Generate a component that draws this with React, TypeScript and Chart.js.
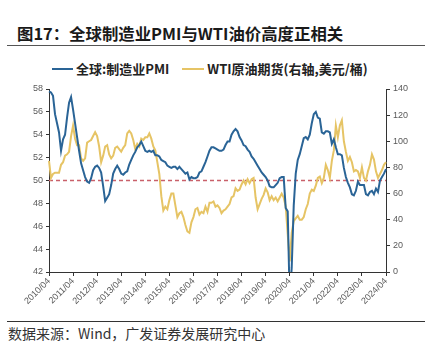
import React, { useEffect, useRef } from "react";
import { Chart, registerables } from "chart.js";

Chart.register(...registerables);

// Monthly categories 2010/04 .. 2024/04
const START_YEAR = 2010;
const START_MONTH = 4;
const MONTH_COUNT = 169;
const LABELS: string[] = [];
for (let i = 0; i < MONTH_COUNT; i++) {
  const m0 = START_MONTH - 1 + i;
  const y = START_YEAR + Math.floor(m0 / 12);
  const m = (m0 % 12) + 1;
  LABELS.push(`${y}/${m < 10 ? "0" + m : m}`);
}

const PMI: number[] = [
  // 2010 Apr-Dec
  57.8, 57.7, 57.4, 55.8, 55.0, 54.2, 52.6, 53.6, 54.0,
  // 2011
  55.5, 56.8, 57.3, 56.2, 55.0, 53.8, 52.6, 51.5, 50.9, 50.3, 49.9, 49.8,
  // 2012
  50.2, 50.9, 51.2, 51.3, 51.1, 50.7, 49.5, 48.2, 48.5, 48.8, 49.6, 50.6,
  // 2013
  51.0, 51.3, 51.0, 50.6, 50.5, 50.7, 50.8, 51.4, 51.8, 52.2, 52.5, 52.9,
  // 2014
  53.1, 53.4, 53.0, 52.6, 52.5, 52.6, 52.5, 52.6, 52.2, 52.2, 52.1, 51.8,
  // 2015
  51.7, 51.6, 51.3, 51.2, 51.1, 51.2, 51.2, 51.0, 51.2, 51.0, 50.8, 50.6,
  // 2016
  50.7, 50.1, 50.3, 50.2, 50.2, 50.3, 50.7, 50.8, 51.2, 51.6, 52.1, 52.6,
  // 2017
  52.9, 52.9, 52.8, 52.7, 52.6, 52.6, 52.7, 53.1, 53.4, 53.4, 54.0, 54.3,
  // 2018
  54.5, 54.3, 53.8, 53.5, 53.1, 53.0, 52.7, 52.5, 52.1, 51.9, 51.6, 51.3,
  // 2019
  51.0, 50.7, 50.5, 50.3, 50.0, 49.5, 49.4, 49.4, 49.6, 49.8, 50.2, 50.3,
  // 2020
  50.3, 47.6, 47.3, 39.6, 42.4, 47.8, 50.6, 51.8, 52.3, 53.0, 53.7, 53.8,
  // 2021
  53.6, 54.0, 55.0, 55.8, 56.0, 55.5, 55.4, 54.2, 54.1, 54.3, 54.3, 54.2,
  // 2022
  53.2, 53.6, 52.9, 52.3, 52.3, 52.2, 51.1, 50.3, 49.8, 49.4, 48.8, 48.7,
  // 2023
  49.1, 49.9, 49.6, 49.6, 49.6, 48.8, 48.7, 49.0, 49.1, 48.8, 49.3, 49.0,
  // 2024 Jan-Apr
  50.0, 50.3, 50.6, 51.0,
];

const WTI: number[] = [
  // 2010 Apr-Dec
  85, 72, 75, 76, 76, 76, 82, 84, 89,
  // 2011
  90, 92, 104, 112, 102, 97, 97, 87, 85, 87, 99, 100,
  // 2012
  101, 104, 107, 104, 96, 84, 89, 96, 97, 90, 87, 89,
  // 2013
  95, 96, 94, 92, 95, 97, 106, 108, 106, 101, 94, 98,
  // 2014
  96, 102, 101, 103, 103, 106, 102, 96, 93, 84, 75, 58,
  // 2015
  47, 50, 48, 55, 60, 60, 51, 42, 45, 46, 42, 36,
  // 2016
  31, 30, 38, 42, 48, 49, 44, 46, 45, 50, 46, 53,
  // 2017
  53, 54, 50, 51, 49, 45, 47, 48, 50, 52, 57, 58,
  // 2018
  64, 62, 63, 67, 70, 67, 71, 68, 71, 72, 57, 48,
  // 2019
  52, 56, 59, 64, 61, 55, 58, 55, 57, 54, 57, 60,
  // 2020
  57, 50, 29, 8, 30, 39, 41, 43, 40, 40, 42, 48,
  // 2021
  52, 60, 63, 62, 66, 72, 73, 68, 72, 82, 78, 72,
  // 2022
  85, 93, 112, 103, 112, 116, 100, 92, 85, 88, 84, 77,
  // 2023
  78, 77, 72, 80, 72, 70, 77, 82, 90, 86, 77, 72,
  // 2024 Jan-Apr
  75, 78, 82, 84,
];

const REF_LEVEL = 50;
const LEFT_MIN = 42, LEFT_MAX = 58, LEFT_STEP = 2;
const RIGHT_MIN = 0, RIGHT_MAX = 140, RIGHT_STEP = 20;

const TITLE = "图17：全球制造业PMI与WTI油价高度正相关";
const SERIES_PMI = "全球:制造业PMI";
const SERIES_WTI = "WTI原油期货(右轴,美元/桶)";
const SOURCE = "数据来源：Wind，广发证券发展研究中心";

const BLUE = "#2a6496";
const GOLD = "#e6c465";
const REF_COLOR = "#c9606a";
const TICK_COLOR = "#595959";
const CJK = '"Noto Sans CJK SC", "Liberation Sans", sans-serif';

const refLinePlugin = {
  id: "refLine",
  beforeDatasetsDraw(chart: any) {
    const { ctx, chartArea, scales } = chart;
    const y = scales.y.getPixelForValue(REF_LEVEL);
    ctx.save();
    ctx.beginPath();
    ctx.setLineDash([4, 3]);
    ctx.lineWidth = 1.3;
    ctx.strokeStyle = REF_COLOR;
    ctx.moveTo(chartArea.left, y);
    ctx.lineTo(chartArea.right, y);
    ctx.stroke();
    ctx.restore();
  },
};

export default function App() {
  const canvasRef = useRef<HTMLCanvasElement | null>(null);

  useEffect(() => {
    document.body.style.margin = "0";
    const canvas = canvasRef.current;
    if (!canvas) return;
    const tickFont = { family: '"Liberation Sans", Arial, sans-serif', size: 9 };
    const chart = new Chart(canvas, {
      type: "line",
      data: {
        labels: LABELS,
        datasets: [
          {
            label: SERIES_PMI,
            data: PMI,
            borderColor: BLUE,
            backgroundColor: BLUE,
            borderWidth: 2,
            pointRadius: 0,
            tension: 0,
            yAxisID: "y",
          },
          {
            label: SERIES_WTI,
            data: WTI,
            borderColor: GOLD,
            backgroundColor: GOLD,
            borderWidth: 2,
            pointRadius: 0,
            tension: 0,
            yAxisID: "y1",
          },
        ],
      },
      options: {
        animation: false,
        responsive: false,
        maintainAspectRatio: false,
        layout: { padding: { top: 9, left: 0, right: 0, bottom: 0 } },
        plugins: {
          legend: { display: false },
          tooltip: { enabled: false },
        },
        scales: {
          x: {
            type: "category",
            offset: false,
            grid: { display: true, drawOnChartArea: false, drawTicks: true, tickLength: 4, color: "#333" },
            border: { display: true, color: "#333", width: 1 },
            ticks: {
              autoSkip: false,
              maxRotation: 45,
              minRotation: 45,
              color: TICK_COLOR,
              font: tickFont,
              padding: 0,
              callback: (_v: any, i: number) => (i % 12 === 0 ? LABELS[i] : null),
            },
            afterFit: (s: any) => { s.height = 48; },
          },
          y: {
            position: "left",
            min: LEFT_MIN,
            max: LEFT_MAX,
            grid: { drawOnChartArea: false, drawTicks: true, tickLength: 3, color: "#333" },
            border: { display: true, color: "#333", width: 1 },
            ticks: { stepSize: LEFT_STEP, color: TICK_COLOR, font: tickFont, padding: 3 },
            afterFit: (s: any) => { s.width = 49; },
          },
          y1: {
            position: "right",
            min: RIGHT_MIN,
            max: RIGHT_MAX,
            grid: { drawOnChartArea: false, drawTicks: true, tickLength: 4, color: "#333" },
            border: { display: true, color: "#333", width: 1 },
            ticks: { stepSize: RIGHT_STEP, color: TICK_COLOR, font: tickFont, padding: 3 },
            afterFit: (s: any) => { s.width = 53; },
          },
        },
      },
      plugins: [refLinePlugin],
    });
    return () => chart.destroy();
  }, []);

  return (
    <div style={{ position: "relative", width: 439, height: 352, background: "#fff", overflow: "hidden" }}>
      <div
        style={{
          position: "absolute", left: 17, top: 22, fontFamily: CJK, fontWeight: 700,
          fontSize: 16.4, color: "#1a1a1a", whiteSpace: "nowrap", lineHeight: "22px",
        }}
      >
        {TITLE}
      </div>
      <div style={{ position: "absolute", left: 7, top: 45, width: 418, height: 0, borderTop: "1.5px solid #555" }} />
      <div
        style={{
          position: "absolute", left: 52, top: 60, display: "flex", alignItems: "center",
          fontFamily: CJK, fontWeight: 700, fontSize: 13, color: "#222", whiteSpace: "nowrap", lineHeight: "18px",
        }}
      >
        <span style={{ display: "inline-block", width: 21, height: 2, background: BLUE, marginRight: 3 }} />
        <span>{SERIES_PMI}</span>
        <span style={{ display: "inline-block", width: 22, height: 2, background: GOLD, marginLeft: 13, marginRight: 3 }} />
        <span>{SERIES_WTI}</span>
      </div>
      <div style={{ position: "absolute", left: 0, top: 80, width: 439, height: 240 }}>
        <canvas ref={canvasRef} width={439} height={240} style={{ width: 439, height: 240 }} />
      </div>
      <div style={{ position: "absolute", left: 7, top: 321, width: 418, height: 0, borderTop: "1.5px solid #333" }} />
      <div
        style={{
          position: "absolute", left: 8, top: 324, fontFamily: CJK, fontSize: 14,
          color: "#333", whiteSpace: "nowrap", lineHeight: "18px",
        }}
      >
        {SOURCE}
      </div>
    </div>
  );
}
